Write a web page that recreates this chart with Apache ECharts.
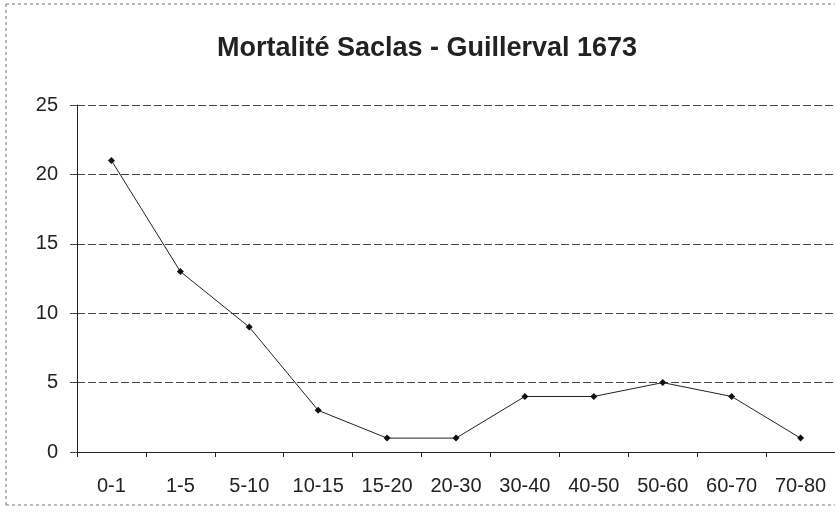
<!DOCTYPE html>
<html><head><meta charset="utf-8">
<script src="https://cdn.jsdelivr.net/npm/echarts@6/dist/echarts.min.js"></script>
<style>html,body{margin:0;padding:0;background:#fff}#c{width:835px;height:515px}</style>
</head><body><div id="c"></div>
<script>
const categories = ['0-1','1-5','5-10','10-15','15-20','20-30','30-40','40-50','50-60','60-70','70-80'];
const deaths = [21,13,9,3,1,1,4,4,5,4,1];
const yTicks = {min:0, max:25, interval:5};

const chart = echarts.init(document.getElementById('c'));
chart.setOption({
  backgroundColor:'#fff',
  animation:false,
  title:{text:'Mortalité Saclas - Guillerval 1673', left:422, textAlign:'center', top:30,
    textStyle:{fontFamily:'Liberation Sans', fontWeight:'bold', fontSize:27, color:'#222'}},
  graphic:[
    {type:'line', shape:{x1:6,y1:4,x2:6,y2:505}, style:{stroke:'#777', lineWidth:1, lineDash:[3,3]}},
    {type:'line', shape:{x1:6,y1:4,x2:835,y2:4}, style:{stroke:'#777', lineWidth:1, lineDash:[3,3]}},
    {type:'line', shape:{x1:6,y1:505,x2:835,y2:505}, style:{stroke:'#777', lineWidth:1, lineDash:[3,3]}}
  ],
  grid:{left:77, top:105, width:763, height:347},
  xAxis:{type:'category', data:categories, boundaryGap:true,
    axisLine:{lineStyle:{color:'#222', width:1}},
    axisTick:{show:true, length:5, lineStyle:{color:'#222'}},
    axisLabel:{fontFamily:'Liberation Sans', fontSize:20, color:'#222', margin:24, interval:0}},
  yAxis:{type:'value', min:yTicks.min, max:yTicks.max, interval:yTicks.interval,
    axisLine:{show:true, lineStyle:{color:'#222', width:1}},
    axisTick:{show:true, length:7, lineStyle:{color:'#444'}},
    axisLabel:{fontFamily:'Liberation Sans', fontSize:20, color:'#222', margin:19},
    splitLine:{lineStyle:{color:'#444', type:[8,3], width:1}}},
  series:[{type:'line', data:deaths, symbol:'diamond', symbolSize:7,
    itemStyle:{color:'#111'}, lineStyle:{color:'#222', width:1}}]
});
</script></body></html>
